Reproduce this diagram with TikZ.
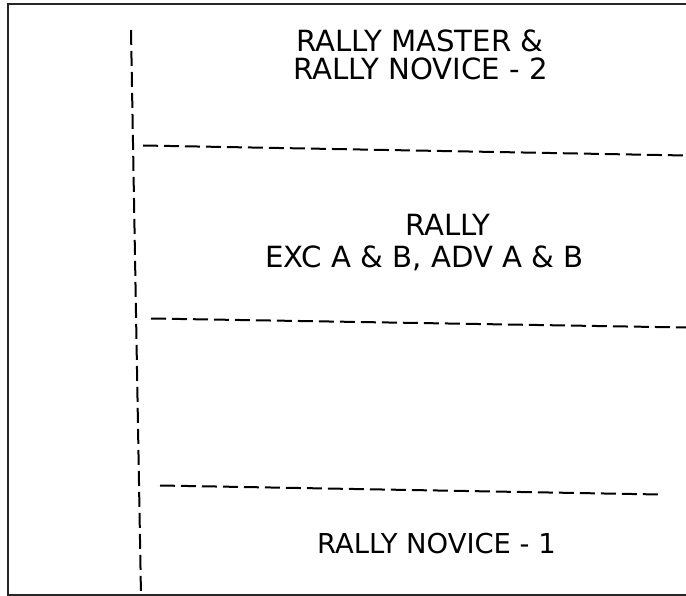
\documentclass[tikz,border=0pt]{standalone}
\usepackage{fontspec}
\setmainfont{DejaVu Sans}
\begin{document}
\begin{tikzpicture}[x=1bp,y=-1bp,
  frame/.style={draw=black!85,line width=1.6bp},
  divider/.style={draw=black,line width=2bp,dash pattern=on 15bp off 6bp},
  bigtext/.style={inner sep=0pt,anchor=base,font=\fontsize{29.3}{35}\selectfont},
  smalltext/.style={inner sep=0pt,anchor=base,font=\fontsize{27.5}{33}\selectfont}]
\useasboundingbox (0,0) rectangle (686,596);
% frame (right side runs off the picture)
\draw[frame] (686,4) -- (8,4) -- (8,595) -- (686,595);
% vertical divider
\coordinate (vtop) at (131,30);
\coordinate (vbot) at (141,596);
\draw[divider] (vtop) -- (vbot);
% horizontal dividers
\coordinate (h1a) at (143,145.5);
\coordinate (h1b) at (686,155.5);
\coordinate (h2a) at (151,318.5);
\coordinate (h2b) at (686,327.5);
\coordinate (h3a) at (160,485.5);
\coordinate (h3b) at (660,494.5);
\draw[divider] (h1a) -- (h1b);
\draw[divider] (h2a) -- (h2b);
\draw[divider] (h3a) -- (h3b);
% labels
\node[bigtext] (top1) at (420,52) {RALLY MASTER \&};
\node[bigtext] (top2) at (420.5,79.5) {RALLY NOVICE - 2};
\node[bigtext] (mid1) at (448,235) {RALLY};
\node[bigtext] (mid2) at (424.5,267) {EXC A \& B, ADV A \& B};
\node[smalltext] (bot1) at (436.5,553) {RALLY NOVICE - 1};
\end{tikzpicture}
\end{document}
